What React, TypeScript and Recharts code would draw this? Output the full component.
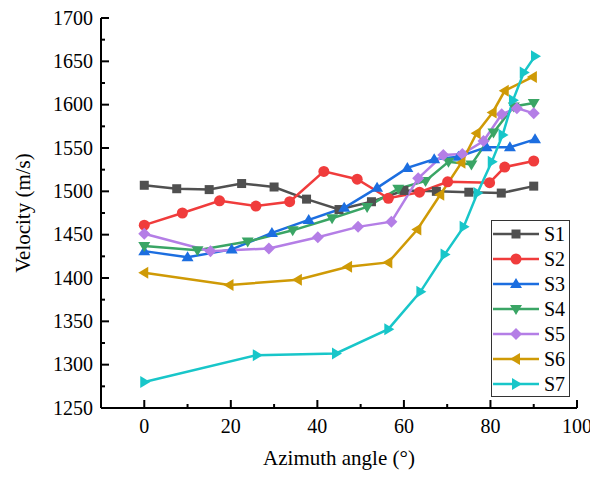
import { LineChart, Line, XAxis, YAxis } from 'recharts';

const s1X = [0, 7.5, 15, 22.5, 30, 37.5, 45, 52.5, 60, 67.5, 75, 82.5, 90];
const s1Y = [1507, 1503, 1502, 1509, 1505, 1491, 1479, 1488, 1501, 1500, 1499, 1498, 1506];
const s2X = [0, 8.8, 17.4, 25.8, 33.6, 41.5, 49.2, 56.4, 63.6, 70.1, 79.8, 83.3, 90];
const s2Y = [1461, 1475, 1489, 1483, 1488, 1523, 1514, 1492, 1499, 1511, 1510, 1528, 1535];
const s3X = [0, 10, 20.2, 29.5, 38, 46.2, 53.8, 60.8, 67, 72.6, 79.1, 84.5, 90.3];
const s3Y = [1431, 1424, 1433, 1452, 1467, 1481, 1504, 1527, 1537, 1540, 1551, 1551, 1560];
const s4X = [0, 12.3, 23.9, 34.3, 43.4, 51.5, 58.7, 65, 70.3, 75.6, 80.7, 85.4, 90];
const s4Y = [1437, 1432, 1442, 1455, 1469, 1482, 1503, 1512, 1534, 1531, 1568, 1598, 1602];
const s5X = [0, 15.3, 28.8, 40.1, 49.4, 57.1, 63.3, 69.1, 73.5, 78.4, 82.6, 86.1, 90];
const s5Y = [1451, 1431, 1434, 1447, 1459, 1465, 1515, 1542, 1543, 1558, 1589, 1596, 1590];
const s6X = [0, 19.7, 35.5, 47.1, 56.4, 63.1, 68.4, 73.3, 76.8, 80.5, 83.3, 89.8];
const s6Y = [1406, 1392, 1398, 1413, 1418, 1456, 1496, 1533, 1567, 1591, 1616, 1632];
const s7X = [0, 26, 44.3, 56.4, 63.8, 69.4, 73.8, 77, 80.3, 82.8, 85.2, 87.7, 90.3];
const s7Y = [1280, 1311, 1313, 1341, 1384, 1427, 1459, 1498, 1534, 1565, 1605, 1637, 1656];

const xTicks = [0, 10, 20, 30, 40, 50, 60, 70, 80, 90, 100];
const yTicks = [1250, 1275, 1300, 1325, 1350, 1375, 1400, 1425, 1450, 1475, 1500, 1525, 1550, 1575, 1600, 1625, 1650, 1675, 1700];

type Shape = 'square' | 'circle' | 'up' | 'down' | 'diamond' | 'left' | 'right';

const series: { name: string; xs: number[]; ys: number[]; color: string; shape: Shape }[] = [
  { name: 'S1', xs: s1X, ys: s1Y, color: '#505050', shape: 'square' },
  { name: 'S2', xs: s2X, ys: s2Y, color: '#f03c3c', shape: 'circle' },
  { name: 'S3', xs: s3X, ys: s3Y, color: '#1c6ee0', shape: 'up' },
  { name: 'S4', xs: s4X, ys: s4Y, color: '#3aa565', shape: 'down' },
  { name: 'S5', xs: s5X, ys: s5Y, color: '#b47ee6', shape: 'diamond' },
  { name: 'S6', xs: s6X, ys: s6Y, color: '#cf9a06', shape: 'left' },
  { name: 'S7', xs: s7X, ys: s7Y, color: '#18c6c9', shape: 'right' },
];

const FONT = "'Liberation Serif', 'Times New Roman', serif";
const txt = { fontFamily: FONT };

function marker(shape: Shape, cx: number, cy: number, color: string, key?: string) {
  const s = 5;
  switch (shape) {
    case 'square':
      return <rect key={key} x={cx - 4.5} y={cy - 4.5} width={9} height={9} fill={color} />;
    case 'circle':
      return <circle key={key} cx={cx} cy={cy} r={5.5} fill={color} />;
    case 'up':
      return <polygon key={key} points={`${cx},${cy - s - 1} ${cx - s - 1},${cy + s - 1} ${cx + s + 1},${cy + s - 1}`} fill={color} />;
    case 'down':
      return <polygon key={key} points={`${cx},${cy + s + 1} ${cx - s - 1},${cy - s + 1} ${cx + s + 1},${cy - s + 1}`} fill={color} />;
    case 'diamond':
      return <polygon key={key} points={`${cx},${cy - 6} ${cx + 6},${cy} ${cx},${cy + 6} ${cx - 6},${cy}`} fill={color} />;
    case 'left':
      return <polygon key={key} points={`${cx - s - 1},${cy} ${cx + s - 1},${cy - s - 1} ${cx + s - 1},${cy + s + 1}`} fill={color} />;
    case 'right':
      return <polygon key={key} points={`${cx + s + 1},${cy} ${cx - s + 1},${cy - s - 1} ${cx - s + 1},${cy + s + 1}`} fill={color} />;
  }
}

function makeDot(shape: Shape, color: string) {
  return (p: any) => marker(shape, p.cx, p.cy, color, `d-${p.index}`);
}

const isMajorX = (v: number) => v % 20 === 0;
const isMajorY = (v: number) => v % 50 === 0;

function BottomTick(p: any) {
  const v = p.payload.value;
  const len = isMajorX(v) ? 8 : 4;
  return (
    <g>
      <line x1={p.x} x2={p.x} y1={p.y} y2={p.y - len} stroke="#000" strokeWidth={2} />
      {isMajorX(v) && (
        <text x={p.x} y={p.y + 25} textAnchor="middle" fontSize={20} style={txt} fill="#000">
          {v}
        </text>
      )}
    </g>
  );
}

function TopTick(p: any) {
  const v = p.payload.value;
  const len = isMajorX(v) ? 8 : 4;
  return <line x1={p.x} x2={p.x} y1={p.y} y2={p.y + len} stroke="#000" strokeWidth={2} />;
}

function LeftTick(p: any) {
  const v = p.payload.value;
  const len = isMajorY(v) ? 8 : 4;
  return (
    <g>
      <line x1={p.x} x2={p.x + len} y1={p.y} y2={p.y} stroke="#000" strokeWidth={2} />
      {isMajorY(v) && (
        <text x={p.x - 8} y={p.y + 6.5} textAnchor="end" fontSize={20} style={txt} fill="#000">
          {v}
        </text>
      )}
    </g>
  );
}

function RightTick(p: any) {
  const v = p.payload.value;
  const len = isMajorY(v) ? 8 : 4;
  return <line x1={p.x} x2={p.x - len} y1={p.y} y2={p.y} stroke="#000" strokeWidth={2} />;
}

function LegendBox() {
  return (
    <svg width={80} height={178} style={{ position: 'absolute', left: 491, top: 220, display: 'block' }}>
      <rect x={0.5} y={0.5} width={78} height={176} fill="#fff" stroke="#333" strokeWidth={1} />
      {series.map((s, i) => {
        const cy = 14 + i * 25;
        return (
          <g key={s.name}>
            <line x1={2} x2={48} y1={cy} y2={cy} stroke={s.color} strokeWidth={2.5} />
            {marker(s.shape, 25, cy, s.color)}
            <text x={53} y={cy + 7} fontSize={20} style={txt} fill="#000">
              {s.name}
            </text>
          </g>
        );
      })}
    </svg>
  );
}

export default function App() {
  return (
    <div style={{ position: 'absolute', left: 0, top: 0, width: 590, height: 477, background: '#fff', fontFamily: FONT }}>
      <LineChart width={590} height={477} margin={{ top: 18, right: 13, bottom: 9, left: 40 }}>
        <XAxis
          xAxisId="b"
          type="number"
          dataKey="x"
          domain={[-10, 100]}
          ticks={xTicks}
          interval={0}
          tickSize={0}
          tickMargin={0}
          tickLine={false}
          axisLine={{ stroke: '#000', strokeWidth: 2 }}
          tick={<BottomTick />}
          height={60}
          allowDataOverflow
          label={{ value: 'Azimuth angle (°)', position: 'insideBottom', offset: 3, fontSize: 21, style: txt, fill: '#000' }}
        />
        <XAxis
          xAxisId="t"
          orientation="top"
          type="number"
          dataKey="x"
          domain={[-10, 100]}
          ticks={xTicks}
          interval={0}
          tickSize={0}
          tickMargin={0}
          tickLine={false}
          axisLine={{ stroke: '#000', strokeWidth: 2 }}
          tick={<TopTick />}
          height={0}
          allowDataOverflow
        />
        <YAxis
          yAxisId="l"
          type="number"
          dataKey="y"
          domain={[1250, 1700]}
          ticks={yTicks}
          interval={0}
          tickSize={0}
          tickMargin={0}
          tickLine={false}
          axisLine={{ stroke: '#000', strokeWidth: 2 }}
          tick={<LeftTick />}
          width={61}
          allowDataOverflow
          label={{ value: 'Velocity (m/s)', angle: -90, position: 'insideLeft', offset: -17, style: { ...txt, textAnchor: 'middle' }, fontSize: 21, fill: '#000' }}
        />
        <YAxis
          yAxisId="r"
          orientation="right"
          type="number"
          dataKey="y"
          domain={[1250, 1700]}
          ticks={yTicks}
          interval={0}
          tickSize={0}
          tickMargin={0}
          tickLine={false}
          axisLine={{ stroke: '#000', strokeWidth: 2 }}
          tick={<RightTick />}
          width={0}
          allowDataOverflow
        />
        {series.map(s => (
          <Line
            key={s.name}
            name={s.name}
            xAxisId="b"
            yAxisId="l"
            data={s.xs.map((x, i) => ({ x, y: s.ys[i] }))}
            dataKey="y"
            stroke={s.color}
            strokeWidth={2.5}
            dot={makeDot(s.shape, s.color)}
            activeDot={false}
            isAnimationActive={false}
          />
        ))}
      </LineChart>
      <LegendBox />
    </div>
  );
}
